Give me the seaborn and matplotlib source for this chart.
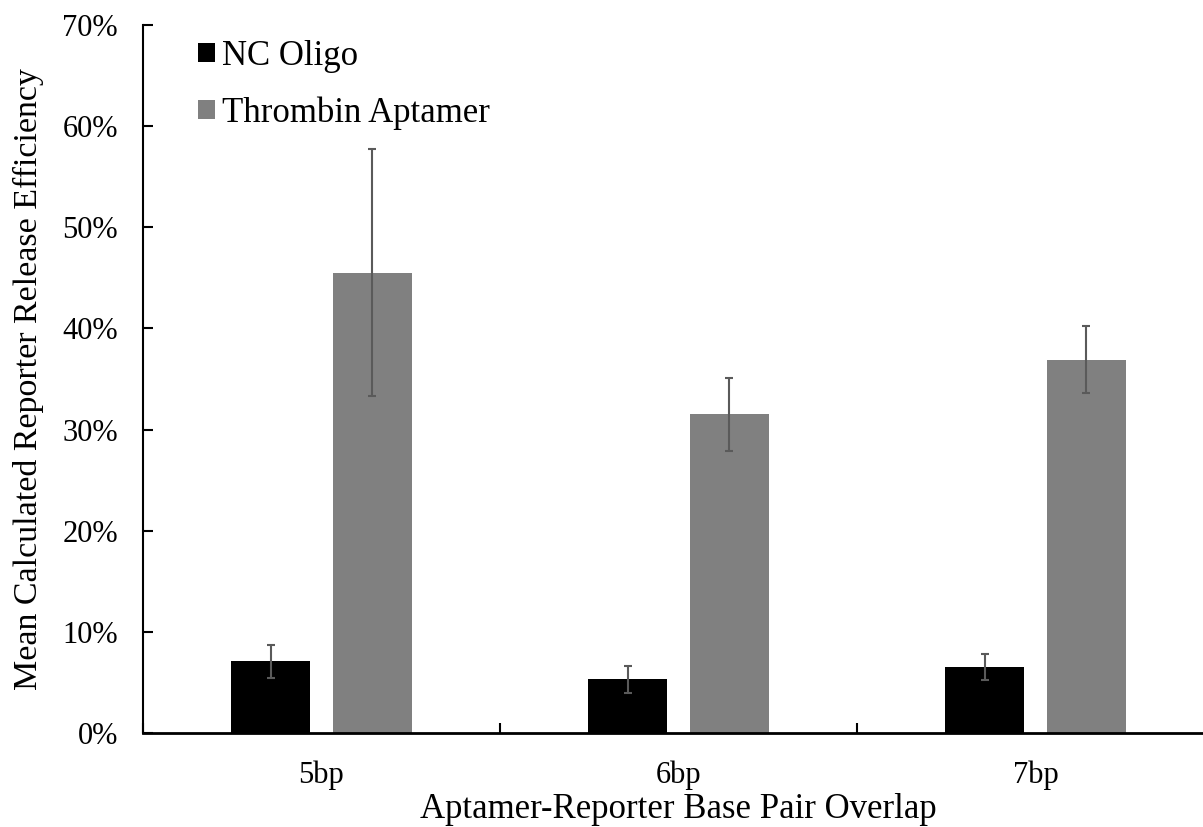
import matplotlib
matplotlib.use("Agg")
import matplotlib.pyplot as plt
import matplotlib.ticker as mticker
import seaborn as sns
import pandas as pd
import numpy as np

# ---- data ----
categories = ["5bp", "6bp", "7bp"]
series_names = ["NC Oligo", "Thrombin Aptamer"]
nc_values = [0.071, 0.053, 0.065]
ta_values = [0.455, 0.315, 0.369]
nc_errors = [0.0165, 0.013, 0.013]
ta_errors = [0.122, 0.036, 0.033]
y_ticks = [0.0, 0.1, 0.2, 0.3, 0.4, 0.5, 0.6, 0.7]

df = pd.DataFrame({
    "overlap": categories * 2,
    "series": [series_names[0]] * 3 + [series_names[1]] * 3,
    "value": nc_values + ta_values,
    "err": nc_errors + ta_errors,
})

sns.set_theme(style="white")
plt.rcParams["font.family"] = ["Liberation Serif", "DejaVu Serif"]
plt.rcParams["text.color"] = "black"

fig = plt.figure(figsize=(12.03, 8.27), dpi=100)
ax = fig.add_axes([143 / 1203, 1 - 733 / 827, (1214 - 143) / 1203, (733 - 25) / 827])

sns.barplot(data=df, x="overlap", y="value", hue="series", order=categories,
            hue_order=series_names, palette=["#000000", "#808080"],
            width=0.57, gap=0.22, errorbar=None, saturation=1, ax=ax,
            edgecolor="none", linewidth=0)

# error bars positioned from the bar patches of each series
for cont, name in zip(ax.containers, series_names):
    sub = df[df["series"] == name].set_index("overlap").loc[categories]
    xs = [b.get_x() + b.get_width() / 2 for b in cont]
    ax.errorbar(xs, sub["value"].values, yerr=sub["err"].values, fmt="none",
                ecolor="#5a5a5a", elinewidth=1.5, capsize=3, capthick=1.5, zorder=5)

ax.set_ylim(0, 0.7)
ax.set_xlim(-0.5, 2.5)
ax.set_yticks(y_ticks)
ax.yaxis.set_major_formatter(mticker.PercentFormatter(1.0, decimals=0))

# x: labels at centers, ticks at category boundaries
ax.set_xticks(np.arange(len(categories)), categories)
ax.set_xticks(np.arange(-0.5, len(categories), 1.0), minor=True)
ax.tick_params(axis="x", which="major", length=0, pad=20, labelsize=22)
ax.tick_params(axis="x", which="minor", direction="in", length=7, width=1.5, color="black", bottom=True)
ax.tick_params(axis="y", which="major", direction="in", length=7, width=1.5, color="black",
               left=True, pad=18, labelsize=22)

for s in ["top", "right"]:
    ax.spines[s].set_visible(False)
ax.spines["left"].set_color("black")
ax.spines["left"].set_linewidth(1.5)
ax.spines["bottom"].set_color("black")
ax.spines["bottom"].set_linewidth(2.0)

ax.set_xlabel("Aptamer-Reporter Base Pair Overlap", fontsize=25, labelpad=2, color="black")
ax.set_ylabel("Mean Calculated Reporter Release Efficiency", fontsize=24.5, labelpad=13, color="black")
for lab in ax.get_xticklabels() + ax.get_yticklabels():
    lab.set_color("black")

handles, labels = ax.get_legend_handles_labels()
leg = ax.legend(handles, labels, loc="upper left", bbox_to_anchor=(198 / 1203, 1 - 40 / 827),
                bbox_transform=fig.transFigure, frameon=False, fontsize=25,
                handlelength=0.48, handleheight=0.48, handletextpad=0.22, labelspacing=0.68,
                borderaxespad=0, borderpad=0)
for t in leg.get_texts():
    t.set_color("black")

fig.savefig("out.png", dpi=100, facecolor="white")
